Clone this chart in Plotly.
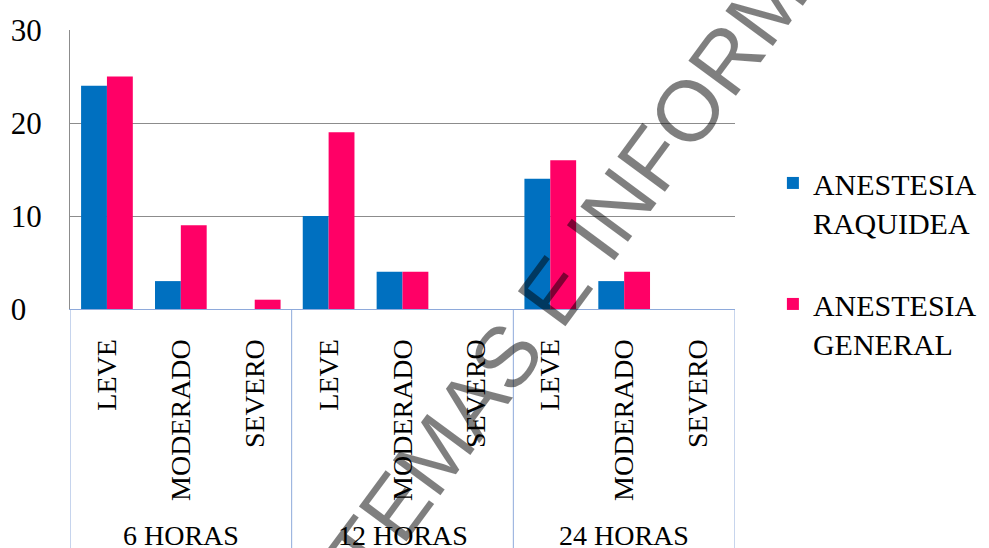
import plotly.graph_objects as go

# Data: pain intensity counts by hour and anaesthesia type
hour_groups = ["6 HORAS", "12 HORAS", "24 HORAS"]
severity = ["LEVE", "MODERADO", "SEVERO"] * 3
raquidea = [24, 3, 0, 10, 4, 0, 14, 3, 0]
general = [25, 9, 1, 19, 4, 0, 16, 4, 0]
y_ticks = [0, 10, 20, 30]

series_names = ["ANESTESIA<br>RAQUIDEA", "ANESTESIA<br>GENERAL"]
series_colors = ["#0070C0", "#FF0066"]

serif = "Liberation Serif"
axis_blue = "#8EAADB"
grid_grey = "#8C8C8C"

positions = list(range(len(severity)))
per_group = len(severity) // len(hour_groups)

# Value labels are left-aligned: pad short labels with an invisible digit
label_width = max(len(str(v)) for v in y_ticks)
y_tick_text = [
    str(v) + (f'<span style="color:rgba(0,0,0,0)">{"0" * (label_width - len(str(v)))}</span>'
              if len(str(v)) < label_width else "")
    for v in y_ticks
]

fig = go.Figure()
for i, (name, vals, col) in enumerate(zip(series_names, [raquidea, general], series_colors)):
    fig.add_trace(go.Bar(
        x=positions,
        y=vals,
        name=name,
        legendgroup=f"g{i}",
        marker=dict(color=col, line=dict(width=0)),
    ))

fig.update_layout(
    width=989,
    height=548,
    margin=dict(l=70, r=254, t=30, b=239, autoexpand=False),
    paper_bgcolor="white",
    plot_bgcolor="white",
    barmode="group",
    bargap=0.30,
    bargroupgap=0,
    font=dict(family=serif, size=28, color="black"),
    legend=dict(
        x=1.057, y=0.545, xanchor="left", yanchor="top",
        font=dict(family=serif, size=30, color="black"),
        valign="top",
        tracegroupgap=40,
        bgcolor="rgba(0,0,0,0)",
    ),
    showlegend=True,
)

fig.update_xaxes(
    range=[-0.5, len(severity) - 0.5],
    tickmode="array",
    tickvals=positions,
    ticktext=severity,
    tickangle=-90,
    tickfont=dict(family=serif, size=28, color="black"),
    showline=True, linecolor=axis_blue, linewidth=1,
    ticks="",
    ticklabelstandoff=18,
    showgrid=False,
    zeroline=False,
)
fig.update_yaxes(
    range=[0, 30],
    tickmode="array",
    tickvals=y_ticks,
    ticktext=y_tick_text,
    tickfont=dict(family=serif, size=31, color="black"),
    showline=True, linecolor=grid_grey, linewidth=1,
    showgrid=True, gridcolor=grid_grey, gridwidth=1,
    zeroline=False,
    ticks="",
    ticklabelstandoff=21,
)

# Group dividers and group labels under the category axis
for g, label in enumerate(hour_groups):
    start = g * per_group - 0.5
    fig.add_shape(
        type="line", xref="x", yref="paper",
        x0=start, x1=start, y0=0, y1=-0.95,
        line=dict(color=axis_blue, width=1),
    )
    fig.add_annotation(
        text=label, xref="x", yref="paper",
        x=g * per_group + (per_group - 1) / 2, y=-0.812,
        xanchor="center", yanchor="middle",
        showarrow=False,
        font=dict(family=serif, size=28, color="black"),
    )
fig.add_shape(
    type="line", xref="x", yref="paper",
    x0=len(severity) - 0.5, x1=len(severity) - 0.5, y0=0, y1=-0.95,
    line=dict(color=axis_blue, width=1),
)

# Diagonal translucent watermark across the chart
fig.add_annotation(
    text="SISTEMAS E INFORMÁTICA",
    xref="paper", yref="paper",
    x=(601 - 70) / 665, y=(309 - 228) / 279,
    xanchor="center", yanchor="middle",
    textangle=-53.5,
    showarrow=False,
    font=dict(family="Liberation Sans", size=86, color="rgba(0,0,0,0.5)"),
)

fig.write_html("out.html")
